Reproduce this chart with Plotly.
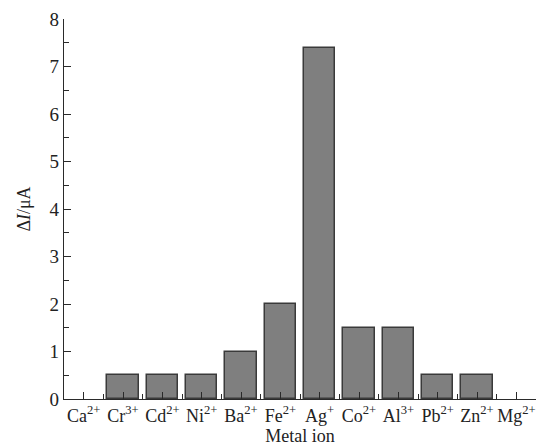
import plotly.graph_objects as go

ions = ["Ca<sup>2+</sup>", "Cr<sup>3+</sup>", "Cd<sup>2+</sup>", "Ni<sup>2+</sup>", "Ba<sup>2+</sup>",
        "Fe<sup>2+</sup>", "Ag<sup>+</sup>", "Co<sup>2+</sup>", "Al<sup>3+</sup>", "Pb<sup>2+</sup>",
        "Zn<sup>2+</sup>", "Mg<sup>2+</sup>"]
delta_i = [0, 0.5, 0.5, 0.5, 1.0, 2.0, 7.4, 1.5, 1.5, 0.5, 0.5, 0]
positions = list(range(len(ions)))
y_ticks = [0, 1, 2, 3, 4, 5, 6, 7, 8]
x_minor = [p + 0.5 for p in positions[:-1]]
y_minor = [t + 0.5 for t in y_ticks[:-1]]

outline_w = [0 if v == 0 else 1.5 for v in delta_i]
TICK_COLOR = "#2a2a2a"

fig = go.Figure(go.Bar(
    x=positions, y=delta_i, width=0.8,
    marker=dict(color="#7f7f7f", line=dict(color="#3a3a3a", width=outline_w)),
))

font = dict(family="Liberation Serif, Times New Roman, serif", size=18, color="#222")

fig.update_layout(
    template="none",
    width=541, height=446,
    margin=dict(l=64, r=5, t=19, b=47),
    paper_bgcolor="white", plot_bgcolor="white",
    font=font, showlegend=False, bargap=0,
    xaxis=dict(
        range=[-0.5, 11.5], tickmode="array", tickvals=positions, ticktext=ions,
        ticks="inside", ticklen=7, tickwidth=1.3, tickcolor=TICK_COLOR, layer="above traces",
        minor=dict(ticks="inside", tickvals=x_minor, ticklen=5, tickwidth=1.3, tickcolor=TICK_COLOR),
        showline=True, linecolor=TICK_COLOR, linewidth=1.3, showgrid=False, zeroline=False,
        tickfont=dict(size=18),
        title=dict(text="Metal ion", standoff=0, font=dict(size=18)),
    ),
    yaxis=dict(
        range=[0, 8], tickmode="array", tickvals=y_ticks,
        ticks="inside", ticklen=7, tickwidth=1.3, tickcolor=TICK_COLOR, layer="above traces",
        minor=dict(ticks="inside", tickvals=y_minor, ticklen=5, tickwidth=1.3, tickcolor=TICK_COLOR),
        showline=True, linecolor=TICK_COLOR, linewidth=1.3, showgrid=False, zeroline=False,
        tickfont=dict(size=19),
        title=dict(text="Δ<i>I</i>/μA", standoff=14, font=dict(size=18)),
    ),
)

fig.write_html("out.html")
